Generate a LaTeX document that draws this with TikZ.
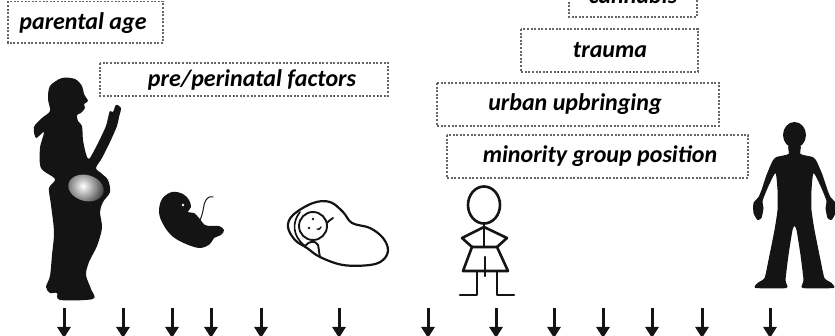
\documentclass[tikz,border=0pt]{standalone}
\usepackage{fontspec}
\setmainfont{Carlito}
\usetikzlibrary{arrows.meta}

\begin{document}
\begin{tikzpicture}[x=1pt,y=-1pt,
  factorbox/.style={draw=black!60, line width=1.1pt, dash pattern=on 2pt off 1.6pt},
  factortext/.style={font=\fontsize{24}{28}\selectfont\bfseries\itshape, anchor=base, inner sep=0pt},
  silhouette/.style={fill=black!92, draw=none},
  stick/.style={draw=black!92, line width=2.6pt, line cap=round, line join=round},
  outline/.style={draw=black!92, line width=2.2pt, line cap=round, line join=round},
  timearrow/.style={draw=black!92, line width=3pt, -{Triangle[width=13pt,length=11pt]}},
]
\useasboundingbox (0,0) rectangle (835,336);
\begin{scope}
\clip (0,0) rectangle (835,336);

% ---- risk factor boxes ----
\draw[factorbox] (8,1.5) rectangle (163,43);
\node[factortext] (parental) at (83,30) {parental age};

\draw[factorbox] (100,63) rectangle (388,96);
\node[factortext] (perinatal) at (252,87) {pre/perinatal factors};

\draw[factorbox] (569,-20) rectangle (697,17);
\node[factortext] (cannabis) at (633,4) {cannabis};

\draw[factorbox] (521,29) rectangle (698,72);
\node[factortext] (trauma) at (610,58) {trauma};

\draw[factorbox] (437,83) rectangle (719,126);
\node[factortext] (urban) at (575,111) {urban upbringing};

\draw[factorbox] (447,135) rectangle (748,178);
\node[factortext] (minority) at (600,163) {minority group position};

% ---- pregnant woman ----
\fill[silhouette] plot[smooth cycle, tension=0.5] coordinates {
  (62,78) (75,79) (82,86) (84,94) (88,101) (84,104) (85,108) (81,113)
  (77,115) (78,121) (82,126) (83,140) (86,154) (89,159) (95,149) (101,137)
  (106,126) (108,118) (110,111) (113,112) (116,105) (121,108) (119,117)
  (117,126) (110,142) (102,158) (96,168) (101,173) (108,180) (110,192)
  (103,202) (100,212) (102,228) (97,246) (89,262) (86,275) (91,289)
  (93,299) (60,300) (57,293) (50,293) (46,287) (50,276) (52,255)
  (54,232) (51,205) (49,188) (55,179) (41,168) (40,148) (44,132)
  (36,138) (34,127) (42,118) (50,111) (48,99) (50,86)
};
\begin{scope}
  \clip[rotate around={-15:(86,188)}] (86,188) ellipse [x radius=18pt, y radius=13pt];
  \shade[inner color=white, outer color=black!85] (83,186) circle [radius=24pt];
\end{scope}

% ---- fetus ----
\fill[silhouette] plot[smooth cycle, tension=0.6] coordinates {
  (172,192) (183,194) (189,200) (191,207) (188,212) (194,213) (199,218)
  (205,225) (212,226) (219,226) (224,230) (221,235) (214,238) (210,244)
  (200,248) (186,244) (172,236) (163,224) (159,212) (162,199)
};
\fill[white] (183,205) circle [radius=1.4pt];
\draw[black!90, line width=1pt, line cap=round]
  (200,220) .. controls (204,212) and (203,204) .. (206,200)
  .. controls (208,197) and (211,196) .. (213,197);

% ---- swaddled baby ----
\draw[outline] plot[smooth cycle, tension=0.6] coordinates {
  (293,215) (313,203) (330,202) (343,212) (352,223) (370,228) (383,238)
  (388,250) (383,260) (370,265) (343,265) (320,257) (307,248) (295,240)
  (288,227)
};
\draw[outline, line width=1.7pt] (300,212) .. controls (292,222) and (292,236) .. (305,246);
\draw[outline, line width=1.9pt] (313,226) circle [radius=14pt];
\fill[black!92] (313,219) circle [radius=1.3pt] (309,228) circle [radius=1.3pt];
\draw[outline, line width=1.4pt] (317,229) .. controls (319,230) and (320,229) .. (321,227);
\draw[outline, line width=1.9pt] (327,223) .. controls (329,221) and (331,219) .. (333,218);
\draw[outline, line width=1.9pt] (305,246) .. controls (309,241) and (315,240) .. (318,245)
  .. controls (319,249) and (319,253) .. (320,257);

% ---- stick child ----
\draw[stick] (484,205) ellipse [x radius=16pt, y radius=18.5pt];
\draw[stick] (484,223.5) -- (484,247);
\draw[stick] (472,247) -- (462,238) -- (484,227) -- (507,238) -- (497,247);
\draw[stick] (472,247) -- (497,247) -- (508,271) -- (463,271) -- cycle;
\draw[stick] (485,257) -- (485,276);
\draw[stick] (477,271) -- (477,295) -- (460,295);
\draw[stick] (497,271) -- (497,295) -- (514,295);

% ---- adult ----
\fill[silhouette] (794.5,135) ellipse [x radius=11.5pt, y radius=13pt];
\fill[silhouette] plot[smooth cycle, tension=0.35] coordinates {
  (788.5,146) (788.5,154) (776.5,157) (772.5,161) (766.5,175) (761.5,190)
  (758.5,197) (753.5,203) (753.5,213) (757.5,220) (761.5,218) (763.5,208)
  (762.5,201) (768.5,186) (775.5,173) (777.5,190) (777.5,210) (774.5,230)
  (768.5,260) (764.5,278) (757.5,283) (755.5,288) (786.5,288) (785.5,280)
  (788.5,255) (792.5,230) (794.5,226)
  (796.5,230) (800.5,255) (803.5,280) (802.5,288) (833.5,288) (831.5,283)
  (824.5,278) (820.5,260) (814.5,230) (811.5,210) (811.5,190) (813.5,173)
  (820.5,186) (826.5,201) (825.5,208) (827.5,218) (831.5,220) (835.5,213)
  (835.5,203) (830.5,197) (827.5,190) (822.5,175) (816.5,161) (812.5,157)
  (800.5,154) (800.5,146)
};

% ---- time axis arrows ----
\foreach \xa in {64,123,172,211,261,339,428,496,554,603,652,702,770}
  \draw[timearrow] (\xa,308) -- (\xa,338);
\end{scope}
\end{tikzpicture}
\end{document}
